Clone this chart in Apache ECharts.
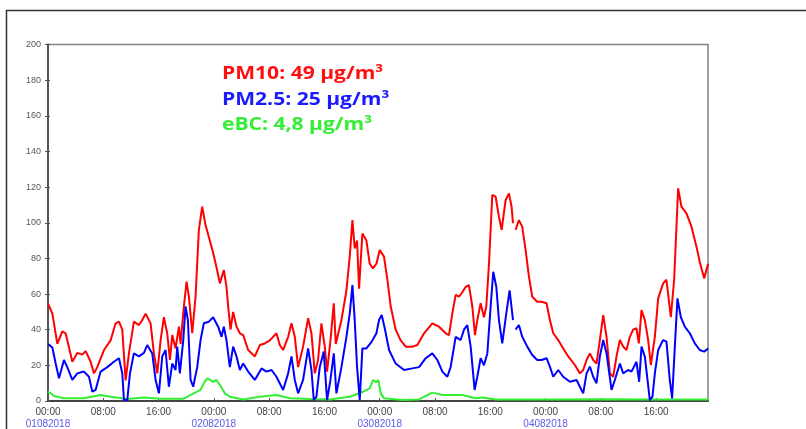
<!DOCTYPE html>
<html>
<head>
<meta charset="utf-8">
<script src="https://cdn.jsdelivr.net/npm/echarts@6/dist/echarts.min.js"></script>
<style>
  html, body { margin: 0; padding: 0; background: #fff; }
  #chart { width: 806px; height: 429px; }
</style>
</head>
<body>
<div id="chart"></div>
<script>
// Hours since 01.08.2018 00:00 and concentrations in µg/m³
const pm10Hours = [0,0.63,1.35,2.07,2.55,3.04,3.52,4.24,4.96,5.45,6.17,6.65,7.13,8.1,9.06,9.78,10.27,10.75,11.23,11.71,12.43,13.16,13.64,14.12,14.84,15.33,15.81,16.29,16.77,17.25,17.64,17.98,18.46,18.94,19.18,19.66,20.05,20.39,20.87,21.35,21.83,22.31,22.8,23.52,23.9,24.38,24.87,25.44,25.83,26.07,26.41,26.79,27.28,27.76,28.24,28.96,29.93,30.65,31.37,32.1,33.06,33.54,34.02,34.75,35.23,35.71,36.19,36.91,37.64,38.12,38.6,39.08,39.56,40.05,40.38,40.87,41.35,41.64,42.46,43.18,43.66,44.05,44.38,44.72,45.01,45.49,46.07,46.55,47.03,47.52,48.0,48.62,49.11,49.59,50.31,51.03,51.76,52.72,53.44,54.41,55.61,56.58,57.54,58.02,58.5,58.99,59.47,59.95,60.43,60.91,61.4,61.78,62.12,62.6,63.08,63.42,63.81,64.29,64.77,65.25,65.64,66.22,66.7,67.08,67.28,67.45,67.66,68.14,68.62,69.11,69.59,70.07,70.79,71.42,72.14,72.62,73.11,73.83,74.55,75.28,76.24,76.96,77.44,77.93,78.41,78.89,79.37,79.85,80.34,80.82,81.3,81.78,82.26,82.75,83.23,83.71,84.19,84.67,85.15,85.49,85.88,86.36,86.84,87.23,87.81,88.29,89.01,89.49,90.12,90.6,91.18,91.66,92.38,93.11,93.83,94.31,94.94,95.52];
const pm10Values = [54.8,49,32,39,38,30,22,27,26,28,22,15.5,19,28.6,34,43.6,44.5,40,11.5,26.7,44.5,42.6,45.4,49,43.6,26.7,15.5,34,47,38,23,37,29.5,41.7,32,53,67,58.5,38,58.5,96,109,98.7,88.5,83,75,66,73.5,64,53,40,50,41.7,38,37,28.6,25,31.4,32.3,34,38,31.4,28.6,36,43.6,36,19,30.5,46.4,38,15.5,23,43.6,30.5,16.5,34,54.8,32,45.4,62,81,101.5,85.6,90,63,94,90,77,74.4,77,84.7,81,68,53,40,34,30.5,30.5,31.4,38,43.6,41.7,38,37,49,59.5,58.5,61,64,65,53,37,45.4,54.8,47,53,77,115.6,114.6,103.4,96,112.8,116.5,109,99.7,null,96,101.5,97.8,84.7,69.8,58.5,55.7,55.7,54.8,45.4,38,34.2,29.5,25,20.2,15.5,17.4,23,26.7,23,21,34.2,48.2,36,15.5,13.6,24.9,34.2,30.5,28.6,36,40,40.8,32.3,51,45.4,34.2,20.2,36,57.6,66,68,47,68,119.3,109,105.3,97.8,86.6,78,68.8,77];

const pm25Hours = [0,0.63,1.11,1.59,2.31,2.79,3.52,4.24,5.2,5.93,6.41,6.89,7.61,8.58,9.54,10.27,10.75,10.99,11.47,11.86,12.43,13.16,13.88,14.36,15.08,15.57,16.05,16.53,17.01,17.49,17.98,18.46,18.7,19.08,19.57,19.9,20.24,20.63,21.01,21.59,22.07,22.55,23.28,23.9,24.62,25.11,25.44,25.83,26.31,26.79,27.28,27.76,28.24,28.96,29.93,30.89,31.61,32.34,33.06,34.02,34.75,35.23,35.71,36.19,36.91,37.64,38.12,38.46,38.84,39.32,39.9,40.38,40.87,41.35,41.73,42.46,43.18,43.66,44.05,44.38,44.72,45.11,45.49,46.07,46.79,47.52,47.9,48.29,48.77,49.35,50.31,51.52,52.72,53.69,54.65,55.61,56.34,57.06,57.78,58.26,58.99,59.71,60.19,60.67,61.16,61.73,62.12,62.6,63.08,63.57,64.05,64.43,64.87,65.25,65.73,66.31,66.79,67.18,67.28,67.45,67.66,68.14,68.62,69.35,70.07,70.79,71.42,72.14,72.62,73.11,73.83,74.55,75.52,76.48,76.96,77.44,77.93,78.41,78.89,79.37,79.85,80.34,80.82,81.54,82.02,82.75,83.23,83.95,84.43,85.15,85.54,85.88,86.36,86.75,87.08,87.47,87.81,88.29,89.01,89.49,89.97,90.31,90.7,91.08,91.57,92.14,92.87,93.59,94.31,94.94,95.52];
const pm25Values = [32,30,21,12.7,23,19,11.8,15.5,16.5,13.6,5.2,6.2,16.5,19,22,24,15.5,0.5,0.5,15.5,26.7,25,27,31.4,26.7,11.8,4.3,25,28.6,8,21,17.4,30.5,15.5,34,53,45.4,11.8,8,19,34,43.6,44.5,47,41.7,36,41.7,34,19,30.5,25,17.4,21,16.5,11.8,18.3,16.5,17.4,13.6,6.2,15.5,25,11.8,4.3,11.8,29.5,17.4,0.5,2.4,19,27.7,0.5,11.8,26.7,4.3,19,36,49,65,45.4,19,0.5,29.5,29.5,33,38,45.4,48.2,40,28.6,21,17.4,18.3,19,24,26.7,23,16.5,13.6,19,36,34.2,40,42.6,30.5,6.2,13.6,24,20,26.7,53,72.5,64,45.4,32.3,49,62,49,45.4,null,40,42.6,36,30.5,25.8,23,23,24,19.3,13.6,17.4,13.6,10.8,11.8,8,4.3,15.5,19.3,13.6,10,24.9,34.2,26.7,6.2,11.8,21,15.5,17.4,16.5,22,10.8,30.5,24.9,11.8,0.5,2.4,15.5,28.6,34.2,33.3,11.8,1.5,30.5,57.6,47,41.7,38,32.3,28.6,27.7,29.5];

const ebcHours = [0,0.39,0.87,2.31,5.2,7.61,9.06,11.47,13.88,16.29,19.66,20.63,22.07,22.55,23.04,23.42,23.9,24.38,24.87,25.59,26.31,28.24,30.65,33.06,34.99,37.88,40.77,43.66,45.59,46.55,47.03,47.52,47.8,48.14,48.62,51.28,53.69,55.61,57.06,59.95,61.88,62.84,64.77,69.11,72,80,88,95.52];
const ebcValues = [5.2,4.3,2.8,1.5,1.5,3.4,2.4,1.1,2,1.3,1.3,3.4,6.2,10,12.7,11.8,10.8,11.8,9,4.3,2.4,0.9,2.4,3.4,1.5,1.1,0.9,2.4,5.2,7.1,11.8,10.5,11.8,4.3,1.5,0.6,0.9,4.7,3.4,3.4,1.5,2,0.9,0.9,0.9,1,0.9,0.9];

const dayLabels = ['01082018', '02082018', '03082018', '04082018'];
const yTicks = { min: 0, max: 200, step: 20 };
const xRange = { min: 0, max: 95.5, step: 8 };

const annotations = [
  { text: 'PM10: 49 µg/m³', color: '#ff1010' },
  { text: 'PM2.5: 25 µg/m³', color: '#1a1aff' },
  { text: 'eBC: 4,8 µg/m³', color: '#33ee33' }
];

function pairs(xs, ys) { return xs.map((x, i) => [x, ys[i]]); }

const chart = echarts.init(document.getElementById('chart'), null, { renderer: 'canvas' });

const grid = { left: 48, top: 44.5, right: 98, bottom: 28 };

chart.setOption({
  animation: false,
  backgroundColor: '#fff',
  grid: Object.assign({ show: true, borderColor: '#808080', borderWidth: 1.5, backgroundColor: 'transparent' }, grid),
  xAxis: {
    type: 'value',
    min: xRange.min, max: xRange.max, interval: xRange.step,
    axisLine: { show: true, onZero: false, lineStyle: { color: '#444', width: 2 } },
    axisTick: { show: true, inside: true, length: 3, lineStyle: { color: '#555' } },
    splitLine: { show: false },
    axisLabel: {
      showMaxLabel: false,
      margin: 5,
      formatter: function (v) {
        const h = Math.round(v) % 24;
        const t = (h < 10 ? '0' : '') + h + ':00';
        if (h === 0) {
          return '{t|' + t + '}\n{d|' + dayLabels[Math.round(v) / 24] + '}';
        }
        return '{t|' + t + '}';
      },
      rich: {
        t: { fontFamily: 'Liberation Sans', fontSize: 10, color: '#444', lineHeight: 12 },
        d: { fontFamily: 'Liberation Sans', fontSize: 10, color: '#5a5ae8', lineHeight: 12 }
      }
    }
  },
  yAxis: [{
    type: 'value',
    min: yTicks.min, max: yTicks.max, interval: yTicks.step,
    axisLine: { show: true, lineStyle: { color: '#555', width: 2 } },
    axisTick: { show: true, length: 3, lineStyle: { color: '#555' } },
    splitLine: { show: false },
    axisLabel: { fontFamily: 'Liberation Sans', fontSize: 9, color: '#555', margin: 7 }
  }, {
    type: 'value', position: 'left',
    min: yTicks.min, max: yTicks.max, interval: yTicks.step,
    axisLine: { show: false },
    axisTick: { show: true, inside: true, length: 2, lineStyle: { color: '#555' } },
    splitLine: { show: false },
    axisLabel: { show: false }
  }],
  series: [
    { name: 'eBC', type: 'line', data: pairs(ebcHours, ebcValues), showSymbol: false, connectNulls: false,
      lineStyle: { color: '#33ee33', width: 2 }, itemStyle: { color: '#33ee33' }, z: 2 },
    { name: 'PM10', type: 'line', data: pairs(pm10Hours, pm10Values), showSymbol: false, connectNulls: false,
      lineStyle: { color: '#ff0000', width: 2 }, itemStyle: { color: '#ff0000' }, z: 3 },
    { name: 'PM2.5', type: 'line', data: pairs(pm25Hours, pm25Values), showSymbol: false, connectNulls: false,
      lineStyle: { color: '#0000ff', width: 2 }, itemStyle: { color: '#0000ff' }, z: 4 }
  ],
  graphic: [
    { type: 'rect', silent: true, z: 0,
      shape: { x: 6.5, y: 10.5, width: 900, height: 600 },
      style: { fill: 'none', stroke: '#333', lineWidth: 1.5 } }
  ].concat(annotations.map((a, i) => ({
    type: 'text', x: 222, y: 65 + i * 25.5, scaleX: 1.17, z: 10,
    style: { text: a.text, fill: a.color, font: 'bold 18px "Open Sans"', verticalAlign: 'top' }
  })))
});
</script>
</body>
</html>
